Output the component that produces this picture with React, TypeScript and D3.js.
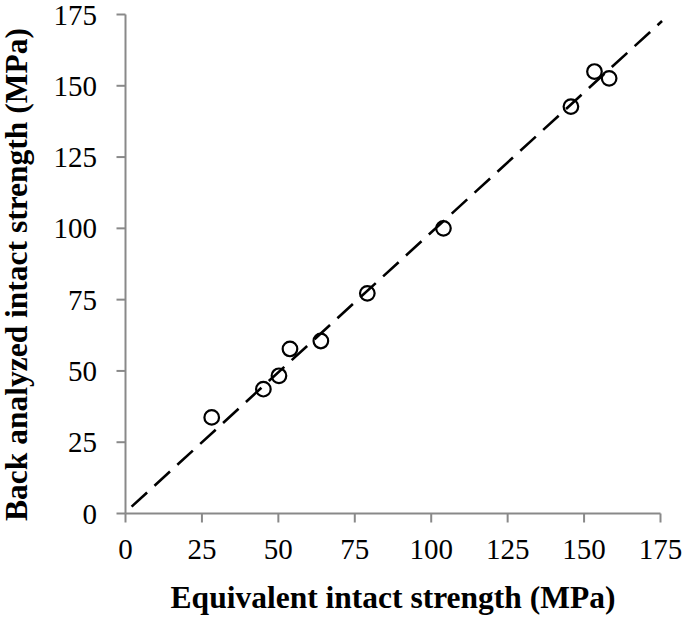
import React from "react";
import * as d3 from "d3";

const equivalentStrength = [28.2, 45.1, 50.2, 53.8, 63.9, 79.1, 104.0, 145.7, 153.4, 158.2];
const backAnalyzedStrength = [33.7, 43.6, 48.3, 57.7, 60.5, 77.2, 100.0, 142.7, 155.0, 152.6];
const tickValues = [0, 25, 50, 75, 100, 125, 150, 175];
const fitLineX = [2, 175.5];
const fitLineY = [2.4, 172.7];

const W = 685;
const H = 617;
const FONT = "'Liberation Serif', 'Times New Roman', serif";

export default function App() {
  const x = d3.scaleLinear().domain([0, 175]).range([125.5, 660.5]);
  const y = d3.scaleLinear().domain([0, 175]).range([513.5, 14.5]);
  const axisColor = "#898989";
  const points = equivalentStrength.map((v, i) => [v, backAnalyzedStrength[i]]);
  const linePts = fitLineX.map((v, i) => [v, fitLineY[i]] as [number, number]);
  const lineGen = d3.line<[number, number]>().x((d) => x(d[0])).y((d) => y(d[1]));

  return (
    <svg
      width={W}
      height={H}
      style={{ position: "absolute", left: 0, top: 0, background: "#fff" }}
      fontFamily={FONT}
    >
      <rect width={W} height={H} fill="#fff" />
      <line x1={x(0)} x2={x(175)} y1={y(0)} y2={y(0)} stroke={axisColor} strokeWidth={2} />
      <line x1={x(0)} x2={x(0)} y1={y(0)} y2={y(175)} stroke={axisColor} strokeWidth={2} />
      {tickValues.map((t) => (
        <g key={"x" + t}>
          <line x1={x(t)} x2={x(t)} y1={y(0)} y2={y(0) + 9} stroke={axisColor} strokeWidth={2} />
          <text x={x(t)} y={558.5} textAnchor="middle" fontSize={29} fill="#000">
            {t}
          </text>
        </g>
      ))}
      {tickValues.map((t) => (
        <g key={"y" + t}>
          <line x1={x(0) - 9} x2={x(0)} y1={y(t)} y2={y(t)} stroke={axisColor} strokeWidth={2} />
          <text x={97} y={y(t) + 10} textAnchor="end" fontSize={29} fill="#000">
            {t}
          </text>
        </g>
      ))}
      <path
        d={lineGen(linePts) || ""}
        fill="none"
        stroke="#000"
        strokeWidth={2.6}
        strokeDasharray="21 10"
      />
      {points.map(([a, b], i) => (
        <circle key={i} cx={x(a)} cy={y(b)} r={7.3} fill="none" stroke="#000" strokeWidth={2.2} />
      ))}
      <text x={393} y={607.5} textAnchor="middle" fontSize={31.5} fontWeight="bold" fill="#000">
        Equivalent intact strength (MPa)
      </text>
      <text
        transform={`translate(27, 274.5) rotate(-90)`}
        textAnchor="middle"
        fontSize={31.5}
        fontWeight="bold"
        fill="#000"
      >
        Back analyzed intact strength (MPa)
      </text>
    </svg>
  );
}
